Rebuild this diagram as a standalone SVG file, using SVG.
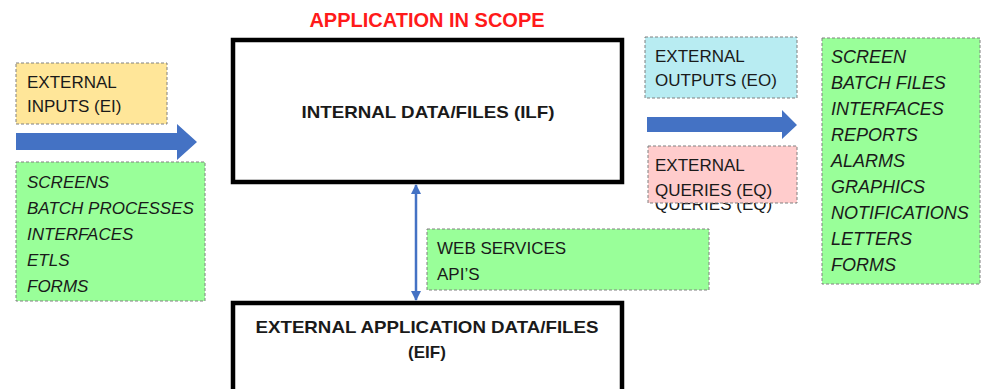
<svg xmlns="http://www.w3.org/2000/svg" width="982" height="389" viewBox="0 0 982 389">
<defs>
<style>
text{font-family:"Liberation Sans",Arial,sans-serif;fill:#1a1a1a}
.reg{font-size:17px}
.it{font-size:17px;font-style:italic}
.itr{font-size:18px;font-style:italic}
.bold{font-size:17px;font-weight:bold}
.title{font-size:20px;font-weight:bold;fill:#ff1a1a}
.dash{stroke:#808080;stroke-width:1;stroke-dasharray:3 2}
.main{fill:#fff;stroke:#000;stroke-width:4.5}
.green{fill:#99ff99}
.blue{fill:#4472c4}
</style>
<marker id="ah" viewBox="0 0 10 10" refX="9" refY="5" markerWidth="4" markerHeight="4" orient="auto-start-reverse">
<path d="M0,0 L10,5 L0,10 z" fill="#4472c4"/>
</marker>
</defs>

<text class="title" x="427" y="27" text-anchor="middle">APPLICATION IN SCOPE</text>

<g id="ilf">
<rect class="main" x="233" y="40" width="389" height="142"/>
<text class="bold" x="428" y="118" text-anchor="middle" textLength="253" lengthAdjust="spacingAndGlyphs">INTERNAL DATA/FILES (ILF)</text>
</g>

<g id="eif">
<rect class="main" x="233" y="303" width="389" height="100"/>
<text class="bold" x="427" y="333" text-anchor="middle" textLength="343" lengthAdjust="spacingAndGlyphs">EXTERNAL APPLICATION DATA/FILES</text>
<text class="bold" x="427" y="358" text-anchor="middle">(EIF)</text>
</g>

<g id="ei">
<rect class="dash" x="16" y="63" width="151" height="61" fill="#ffe699"/>
<text class="reg" x="27" y="88">EXTERNAL</text>
<text class="reg" x="27" y="112">INPUTS (EI)</text>
</g>

<g id="inputs-list">
<rect class="dash green" x="16" y="162" width="189" height="139"/>
<text class="it" x="27" y="188">SCREENS</text>
<text class="it" x="27" y="214">BATCH PROCESSES</text>
<text class="it" x="27" y="240">INTERFACES</text>
<text class="it" x="27" y="266">ETLS</text>
<text class="it" x="27" y="292">FORMS</text>
</g>

<g id="eo">
<rect class="dash" x="645" y="37" width="152" height="61" fill="#b8ecf2"/>
<text class="reg" x="655" y="62">EXTERNAL</text>
<text class="reg" x="655" y="86">OUTPUTS (EO)</text>
</g>

<g id="eq">
<text class="reg" x="655" y="210" fill="#333">QUERIES (EQ)</text>
<rect class="dash" x="648" y="146" width="149" height="57" fill="#ffcccc"/>
<text class="reg" x="655" y="171">EXTERNAL</text>
<text class="reg" x="655" y="196">QUERIES (EQ)</text>
</g>

<g id="outputs-list">
<rect class="dash green" x="822" y="38" width="158" height="246"/>
<text class="itr" x="831" y="63">SCREEN</text>
<text class="itr" x="831" y="89">BATCH FILES</text>
<text class="itr" x="831" y="115">INTERFACES</text>
<text class="itr" x="831" y="141">REPORTS</text>
<text class="itr" x="831" y="167">ALARMS</text>
<text class="itr" x="831" y="193">GRAPHICS</text>
<text class="itr" x="831" y="219">NOTIFICATIONS</text>
<text class="itr" x="831" y="245">LETTERS</text>
<text class="itr" x="831" y="271">FORMS</text>
</g>

<g id="web-services">
<rect class="dash green" x="427" y="229" width="282" height="61"/>
<text class="reg" x="437" y="254">WEB SERVICES</text>
<text class="reg" x="437" y="280">API’S</text>
</g>

<g id="connectors">
<polygon class="blue" points="16,133 177,133 177,124 197,142 177,160 177,150 16,150"/>
<polygon class="blue" points="647,117 782,117 782,110 797,125 782,139 782,132 647,132"/>
<line x1="416" y1="185" x2="416" y2="300" stroke="#4472c4" stroke-width="2.5" marker-start="url(#ah)" marker-end="url(#ah)"/>
</g>
</svg>
